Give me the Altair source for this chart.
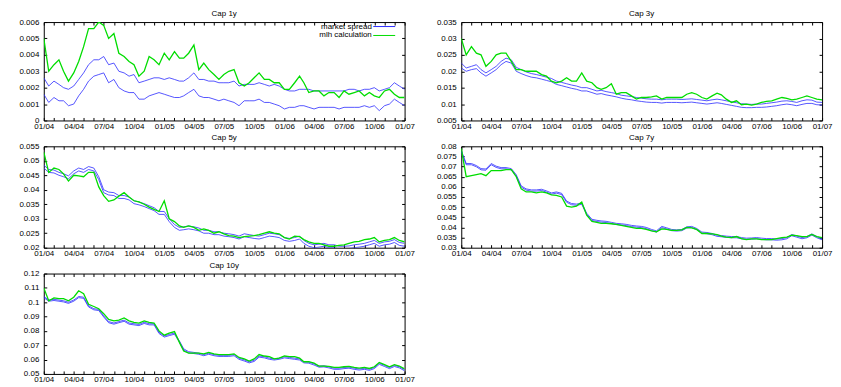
import altair as alt
import pandas as pd

# semi-monthly sampling dates, Jan 2004 .. Jan 2007
dates = []
for yr in (2004, 2005, 2006):
    for mo in range(1, 13):
        dates.append(f"{yr}-{mo:02d}-01T00:00:00")
        dates.append(f"{yr}-{mo:02d}-16T00:00:00")
dates.append("2007-01-01T00:00:00")

# ---------------- Cap 1y ----------------
cap1y_mlh = [0.0050, 0.0030, 0.0034, 0.0037, 0.0030, 0.0024, 0.0029, 0.0036, 0.0045, 0.0056,
             0.0056, 0.0060, 0.0058, 0.0050, 0.0053, 0.0041, 0.0039, 0.0036, 0.0034, 0.0027,
             0.0030, 0.0039, 0.0037, 0.0034, 0.0041, 0.0037, 0.0042, 0.0038, 0.0038, 0.0041,
             0.0046, 0.0031, 0.0035, 0.0031, 0.0028, 0.0025, 0.0028, 0.0030, 0.0031, 0.0023,
             0.0021, 0.0023, 0.0026, 0.0029, 0.0025, 0.0025, 0.0023, 0.0023, 0.0019, 0.0019,
             0.0023, 0.0027, 0.0023, 0.0017, 0.0018, 0.0018, 0.0015, 0.0017, 0.0017, 0.0014,
             0.0018, 0.0016, 0.0017, 0.0018, 0.0015, 0.0017, 0.0015, 0.0014, 0.0018, 0.0019,
             0.0016, 0.0014, 0.0014]
cap1y_ask = [0.0026, 0.0021, 0.0024, 0.0022, 0.0020, 0.0019, 0.0021, 0.0025, 0.0029, 0.0034,
             0.0037, 0.0037, 0.0039, 0.0034, 0.0035, 0.0030, 0.0029, 0.0027, 0.0028, 0.0023,
             0.0024, 0.0025, 0.0026, 0.0026, 0.0025, 0.0026, 0.0025, 0.0024, 0.0024, 0.0026,
             0.0029, 0.0025, 0.0025, 0.0024, 0.0024, 0.0023, 0.0023, 0.0023, 0.0024, 0.0021,
             0.0022, 0.0022, 0.0022, 0.0023, 0.0022, 0.0021, 0.0022, 0.0021, 0.0019, 0.0018,
             0.0018, 0.0019, 0.0019, 0.0019, 0.0018, 0.0018, 0.0018, 0.0018, 0.0018, 0.0018,
             0.0018, 0.0019, 0.0019, 0.0018, 0.0019, 0.0019, 0.0020, 0.0018, 0.0019, 0.0020,
             0.0023, 0.0021, 0.0019]
cap1y_bid = [0.0016, 0.0011, 0.0014, 0.0012, 0.0012, 0.0009, 0.0010, 0.0015, 0.0019, 0.0024,
             0.0027, 0.0028, 0.0029, 0.0023, 0.0025, 0.0020, 0.0018, 0.0017, 0.0017, 0.0013,
             0.0013, 0.0015, 0.0016, 0.0017, 0.0016, 0.0015, 0.0014, 0.0014, 0.0015, 0.0017,
             0.0019, 0.0015, 0.0014, 0.0014, 0.0013, 0.0012, 0.0013, 0.0012, 0.0011, 0.0009,
             0.0012, 0.0012, 0.0012, 0.0013, 0.0011, 0.0011, 0.0010, 0.0009, 0.0007, 0.0008,
             0.0008, 0.0009, 0.0009, 0.0008, 0.0007, 0.0008, 0.0008, 0.0008, 0.0008, 0.0007,
             0.0008, 0.0008, 0.0008, 0.0008, 0.0009, 0.0008, 0.0009, 0.0006, 0.0009, 0.0010,
             0.0013, 0.0011, 0.0009]
ticks_1y = [0, 0.001, 0.002, 0.003, 0.004, 0.005, 0.006]

# ---------------- Cap 3y ----------------
cap3y_mlh = [0.0300, 0.0250, 0.0275, 0.0255, 0.0250, 0.0215, 0.0230, 0.0250, 0.0255, 0.0255,
             0.0230, 0.0205, 0.0205, 0.0200, 0.0200, 0.0200, 0.0190, 0.0185, 0.0170, 0.0165,
             0.0170, 0.0180, 0.0170, 0.0170, 0.0195, 0.0170, 0.0165, 0.0150, 0.0145, 0.0150,
             0.0162, 0.0130, 0.0135, 0.0135, 0.0125, 0.0115, 0.0120, 0.0120, 0.0122, 0.0125,
             0.0115, 0.0120, 0.0120, 0.0120, 0.0120, 0.0130, 0.0135, 0.0130, 0.0120, 0.0115,
             0.0125, 0.0133, 0.0128, 0.0115, 0.0105, 0.0110, 0.0098, 0.0100, 0.0097, 0.0100,
             0.0105, 0.0108, 0.0110, 0.0115, 0.0120, 0.0117, 0.0113, 0.0115, 0.0120, 0.0125,
             0.0120, 0.0115, 0.0113]
cap3y_ask = [0.0225, 0.0210, 0.0215, 0.0220, 0.0205, 0.0195, 0.0205, 0.0215, 0.0230, 0.0240,
             0.0235, 0.0212, 0.0205, 0.0198, 0.0193, 0.0190, 0.0186, 0.0182, 0.0178, 0.0170,
             0.0166, 0.0162, 0.0158, 0.0155, 0.0150, 0.0150, 0.0145, 0.0140, 0.0142, 0.0138,
             0.0135, 0.0132, 0.0127, 0.0125, 0.0123, 0.0120, 0.0118, 0.0116, 0.0115, 0.0115,
             0.0113, 0.0115, 0.0115, 0.0115, 0.0114, 0.0115, 0.0116, 0.0114, 0.0112, 0.0110,
             0.0113, 0.0115, 0.0113, 0.0110, 0.0107, 0.0104, 0.0101, 0.0100, 0.0099, 0.0100,
             0.0100, 0.0102, 0.0104, 0.0106, 0.0109, 0.0110, 0.0108, 0.0105, 0.0110, 0.0113,
             0.0112, 0.0106, 0.0105]
cap3y_bid = [0.0210, 0.0200, 0.0205, 0.0208, 0.0195, 0.0185, 0.0195, 0.0205, 0.0220, 0.0230,
             0.0225, 0.0200, 0.0193, 0.0187, 0.0182, 0.0180, 0.0176, 0.0172, 0.0168, 0.0160,
             0.0156, 0.0152, 0.0148, 0.0145, 0.0140, 0.0140, 0.0135, 0.0130, 0.0132, 0.0128,
             0.0125, 0.0122, 0.0118, 0.0115, 0.0113, 0.0110, 0.0108, 0.0106, 0.0105, 0.0105,
             0.0103, 0.0105, 0.0105, 0.0105, 0.0104, 0.0105, 0.0106, 0.0104, 0.0102, 0.0100,
             0.0102, 0.0104, 0.0102, 0.0099, 0.0096, 0.0093, 0.0090, 0.0089, 0.0089, 0.0090,
             0.0090, 0.0091, 0.0093, 0.0095, 0.0098, 0.0100, 0.0098, 0.0095, 0.0099, 0.0102,
             0.0102, 0.0098, 0.0097]
ticks_3y = [0.005, 0.01, 0.015, 0.02, 0.025, 0.03, 0.035]

# ---------------- Cap 5y ----------------
cap5y_mlh = [0.0530, 0.0460, 0.0475, 0.0470, 0.0455, 0.0430, 0.0450, 0.0448, 0.0445, 0.0460,
             0.0460, 0.0410, 0.0380, 0.0360, 0.0365, 0.0378, 0.0390, 0.0375, 0.0362, 0.0358,
             0.0350, 0.0340, 0.0332, 0.0325, 0.0362, 0.0300, 0.0290, 0.0275, 0.0270, 0.0275,
             0.0270, 0.0260, 0.0265, 0.0260, 0.0250, 0.0255, 0.0248, 0.0242, 0.0240, 0.0235,
             0.0238, 0.0240, 0.0242, 0.0245, 0.0250, 0.0255, 0.0250, 0.0248, 0.0235, 0.0230,
             0.0240, 0.0238, 0.0228, 0.0220, 0.0215, 0.0215, 0.0210, 0.0205, 0.0205, 0.0208,
             0.0210, 0.0215, 0.0220, 0.0222, 0.0228, 0.0230, 0.0235, 0.0220, 0.0225, 0.0228,
             0.0235, 0.0225, 0.0220]
cap5y_ask = [0.0485, 0.0470, 0.0468, 0.0460, 0.0455, 0.0448, 0.0465, 0.0475, 0.0470, 0.0480,
             0.0475, 0.0445, 0.0400, 0.0392, 0.0390, 0.0380, 0.0380, 0.0375, 0.0362, 0.0358,
             0.0352, 0.0345, 0.0338, 0.0325, 0.0325, 0.0300, 0.0280, 0.0270, 0.0272, 0.0275,
             0.0272, 0.0268, 0.0260, 0.0260, 0.0255, 0.0255, 0.0250, 0.0248, 0.0245, 0.0240,
             0.0248, 0.0245, 0.0242, 0.0240, 0.0245, 0.0250, 0.0248, 0.0245, 0.0235, 0.0232,
             0.0235, 0.0240, 0.0225, 0.0215, 0.0210, 0.0212, 0.0215, 0.0210, 0.0210, 0.0205,
             0.0205, 0.0206, 0.0210, 0.0212, 0.0215, 0.0220, 0.0225, 0.0215, 0.0220, 0.0222,
             0.0228, 0.0218, 0.0215]
cap5y_bid = [0.0475, 0.0460, 0.0458, 0.0450, 0.0445, 0.0438, 0.0455, 0.0465, 0.0460, 0.0470,
             0.0465, 0.0435, 0.0390, 0.0382, 0.0380, 0.0370, 0.0370, 0.0365, 0.0352, 0.0348,
             0.0342, 0.0335, 0.0328, 0.0315, 0.0315, 0.0290, 0.0270, 0.0260, 0.0262, 0.0265,
             0.0262, 0.0258, 0.0250, 0.0250, 0.0245, 0.0245, 0.0240, 0.0238, 0.0235, 0.0230,
             0.0238, 0.0235, 0.0232, 0.0230, 0.0235, 0.0240, 0.0238, 0.0235, 0.0225, 0.0222,
             0.0225, 0.0230, 0.0215, 0.0205, 0.0200, 0.0202, 0.0205, 0.0200, 0.0200, 0.0196,
             0.0196, 0.0197, 0.0200, 0.0202, 0.0205, 0.0210, 0.0215, 0.0205, 0.0210, 0.0212,
             0.0218, 0.0208, 0.0205]
ticks_5y = [0.02, 0.025, 0.03, 0.035, 0.04, 0.045, 0.05, 0.055]

# ---------------- Cap 7y ----------------
cap7y_mlh = [0.0790, 0.0650, 0.0655, 0.0660, 0.0665, 0.0655, 0.0680, 0.0680, 0.0680, 0.0685,
             0.0685, 0.0650, 0.0590, 0.0575, 0.0575, 0.0570, 0.0575, 0.0570, 0.0560, 0.0558,
             0.0550, 0.0505, 0.0500, 0.0505, 0.0525, 0.0460, 0.0430, 0.0425, 0.0420, 0.0420,
             0.0418, 0.0415, 0.0410, 0.0405, 0.0400, 0.0395, 0.0395, 0.0390, 0.0383, 0.0378,
             0.0393, 0.0390, 0.0385, 0.0385, 0.0388, 0.0400, 0.0398, 0.0390, 0.0370, 0.0370,
             0.0368, 0.0365, 0.0357, 0.0352, 0.0350, 0.0355, 0.0345, 0.0340, 0.0343, 0.0343,
             0.0340, 0.0340, 0.0340, 0.0345, 0.0350, 0.0352, 0.0362, 0.0360, 0.0355, 0.0355,
             0.0365, 0.0355, 0.0350]
cap7y_ask = [0.0780, 0.0715, 0.0715, 0.0705, 0.0690, 0.0688, 0.0715, 0.0702, 0.0695, 0.0695,
             0.0690, 0.0660, 0.0605, 0.0590, 0.0585, 0.0585, 0.0588, 0.0580, 0.0570, 0.0575,
             0.0568, 0.0530, 0.0518, 0.0515, 0.0520, 0.0470, 0.0440, 0.0435, 0.0432, 0.0430,
             0.0425, 0.0420, 0.0418, 0.0415, 0.0410, 0.0407, 0.0405, 0.0400, 0.0390, 0.0383,
             0.0405, 0.0398, 0.0390, 0.0388, 0.0390, 0.0403, 0.0405, 0.0395, 0.0377, 0.0375,
             0.0370, 0.0362, 0.0360, 0.0357, 0.0355, 0.0355, 0.0350, 0.0347, 0.0348, 0.0350,
             0.0347, 0.0345, 0.0345, 0.0343, 0.0345, 0.0350, 0.0365, 0.0358, 0.0350, 0.0355,
             0.0368, 0.0355, 0.0345]
cap7y_bid = [0.0774, 0.0709, 0.0709, 0.0699, 0.0684, 0.0682, 0.0709, 0.0696, 0.0689, 0.0689,
             0.0684, 0.0654, 0.0599, 0.0584, 0.0579, 0.0579, 0.0582, 0.0574, 0.0564, 0.0569,
             0.0562, 0.0524, 0.0512, 0.0509, 0.0514, 0.0464, 0.0434, 0.0429, 0.0426, 0.0424,
             0.0419, 0.0414, 0.0412, 0.0409, 0.0404, 0.0401, 0.0399, 0.0394, 0.0384, 0.0377,
             0.0399, 0.0392, 0.0384, 0.0382, 0.0384, 0.0397, 0.0399, 0.0389, 0.0371, 0.0369,
             0.0364, 0.0356, 0.0354, 0.0351, 0.0349, 0.0349, 0.0344, 0.0341, 0.0342, 0.0344,
             0.0341, 0.0339, 0.0339, 0.0337, 0.0339, 0.0344, 0.0359, 0.0352, 0.0344, 0.0349,
             0.0362, 0.0349, 0.0339]
ticks_7y = [0.03, 0.035, 0.04, 0.045, 0.05, 0.055, 0.06, 0.065, 0.07, 0.075, 0.08]

# ---------------- Cap 10y ----------------
cap10y_mlh = [0.1100, 0.1010, 0.1030, 0.1025, 0.1025, 0.1010, 0.1035, 0.1080, 0.1060, 0.0985,
              0.0970, 0.0955, 0.0920, 0.0880, 0.0870, 0.0875, 0.0890, 0.0870, 0.0860, 0.0855,
              0.0870, 0.0860, 0.0855, 0.0800, 0.0770, 0.0785, 0.0795, 0.0720, 0.0660, 0.0645,
              0.0645, 0.0645, 0.0640, 0.0650, 0.0640, 0.0635, 0.0635, 0.0635, 0.0640, 0.0615,
              0.0605, 0.0590, 0.0605, 0.0635, 0.0625, 0.0620, 0.0605, 0.0610, 0.0625, 0.0620,
              0.0620, 0.0610, 0.0585, 0.0585, 0.0575, 0.0555, 0.0555, 0.0553, 0.0545, 0.0545,
              0.0550, 0.0553, 0.0545, 0.0540, 0.0545, 0.0538, 0.0550, 0.0580, 0.0565, 0.0550,
              0.0565, 0.0555, 0.0535]
cap10y_ask = [0.1040, 0.1015, 0.1020, 0.1015, 0.1010, 0.1000, 0.1015, 0.1040, 0.1035, 0.0975,
              0.0955, 0.0950, 0.0905, 0.0865, 0.0855, 0.0865, 0.0875, 0.0855, 0.0850, 0.0845,
              0.0860, 0.0850, 0.0850, 0.0790, 0.0765, 0.0775, 0.0785, 0.0730, 0.0675, 0.0655,
              0.0650, 0.0645, 0.0635, 0.0645, 0.0635, 0.0630, 0.0630, 0.0630, 0.0635, 0.0610,
              0.0598, 0.0585, 0.0595, 0.0625, 0.0620, 0.0610, 0.0605, 0.0610, 0.0620, 0.0615,
              0.0610, 0.0605, 0.0585, 0.0583, 0.0570, 0.0555, 0.0557, 0.0550, 0.0540, 0.0540,
              0.0545, 0.0548, 0.0540, 0.0535, 0.0540, 0.0533, 0.0545, 0.0575, 0.0560, 0.0545,
              0.0560, 0.0550, 0.0530]
cap10y_bid = [0.1032, 0.1007, 0.1012, 0.1007, 0.1002, 0.0992, 0.1007, 0.1032, 0.1027, 0.0967,
              0.0947, 0.0942, 0.0897, 0.0857, 0.0847, 0.0857, 0.0867, 0.0847, 0.0842, 0.0837,
              0.0852, 0.0842, 0.0842, 0.0782, 0.0757, 0.0767, 0.0777, 0.0722, 0.0667, 0.0647,
              0.0642, 0.0637, 0.0627, 0.0637, 0.0627, 0.0622, 0.0622, 0.0622, 0.0627, 0.0602,
              0.0590, 0.0577, 0.0587, 0.0617, 0.0612, 0.0602, 0.0597, 0.0602, 0.0612, 0.0607,
              0.0602, 0.0597, 0.0577, 0.0575, 0.0562, 0.0547, 0.0549, 0.0542, 0.0532, 0.0532,
              0.0537, 0.0540, 0.0532, 0.0527, 0.0532, 0.0525, 0.0537, 0.0567, 0.0552, 0.0537,
              0.0552, 0.0542, 0.0522]
ticks_10y = [0.05, 0.06, 0.07, 0.08, 0.09, 0.1, 0.11, 0.12]

SERIES = ["market spread", "mlh calculation"]
BLUE = "#2b2bff"
GREEN = "#00dd00"
FONT = "Liberation Sans"

# monthly tick marks; labels only on quarter months
month_ticks = [alt.DateTime(year=y, month=m, date=1)
               for y in (2004, 2005, 2006) for m in range(1, 13)] + [alt.DateTime(year=2007, month=1, date=1)]
QUARTER_LABEL = "(month(datum.value) % 3 == 0) ? timeFormat(datum.value, '%m/%y') : ''"
X_DOMAIN = [alt.DateTime(year=2004, month=1, date=1), alt.DateTime(year=2007, month=1, date=1)]
INWARD = {"expr": "-3"}


def panel(title, ask, bid, mlh, yticks, width, height, legend=False):
    n = len(dates)
    df = pd.DataFrame({
        "date": dates * 3,
        "value": ask + bid + mlh,
        "series": [SERIES[0]] * (2 * n) + [SERIES[1]] * n,
        "line": ["ask"] * n + ["bid"] * n + ["mlh"] * n,
    })
    xscale = alt.Scale(domain=X_DOMAIN)
    yscale = alt.Scale(domain=[yticks[0], yticks[-1]], nice=False, zero=False)
    x_bottom = alt.X("date:T", scale=xscale,
                     axis=alt.Axis(values=month_ticks, labelExpr=QUARTER_LABEL, title=None,
                                   labelFlush=False, labelOverlap=False,
                                   tickSize=INWARD, labelPadding=5))
    y_left = alt.Y("value:Q", scale=yscale,
                   axis=alt.Axis(values=yticks, format="~g", title=None,
                                 labelFlush=False, labelOverlap=False,
                                 tickSize=INWARD, labelPadding=8))
    x_top = alt.X("date:T", scale=xscale,
                  axis=alt.Axis(orient="top", values=month_ticks, labels=False, title=None,
                                tickSize=INWARD))
    y_right = alt.Y("value:Q", scale=yscale,
                    axis=alt.Axis(orient="right", values=yticks, labels=False, title=None,
                                  tickSize=INWARD))
    if legend:
        leg = alt.Legend(title=None, orient="none", legendX=279, legendY=0,
                         labelFont=FONT, labelFontSize=8, labelColor="black",
                         symbolType="M-3,0L3,0", symbolSize=54, symbolStrokeWidth=1,
                         labelAlign="right", labelOffset={"expr": "-17"}, symbolOffset=59,
                         rowPadding=-3, padding=0)
    else:
        leg = None
    cscale = alt.Scale(domain=SERIES, range=[BLUE, GREEN])
    color_main = alt.Color("series:N", scale=cscale, legend=leg)
    color_plain = alt.Color("series:N", scale=cscale, legend=None)
    base = alt.Chart(df)
    blue = base.transform_filter(alt.datum.series == SERIES[0]).mark_line(
        clip=True, strokeWidth=0.8)
    green = base.transform_filter(alt.datum.series == SERIES[1]).mark_line(
        clip=True, strokeWidth=1.3)
    lines = alt.layer(
        blue.encode(x=x_bottom, y=y_left, color=color_main, detail="line:N"),
        green.encode(x=x_bottom, y=y_left, color=color_main, detail="line:N"),
    )
    # invisible copy that only draws the mirrored top/right tick marks
    mirror = base.transform_filter(alt.datum.series == SERIES[1]).mark_line(
        clip=True, opacity=0).encode(x=x_top, y=y_right, color=color_plain, detail="line:N")
    return alt.layer(lines, mirror).resolve_axis(x="independent", y="independent").properties(
        width=width, height=height,
        title=alt.TitleParams(title, fontSize=8, font=FONT, fontWeight="normal",
                              anchor="middle", offset=0, color="black"))


p1 = panel("Cap 1y", cap1y_ask, cap1y_bid, cap1y_mlh, ticks_1y, 363, 99, legend=True)
p2 = panel("Cap 3y", cap3y_ask, cap3y_bid, cap3y_mlh, ticks_3y, 363, 99)
p3 = panel("Cap 5y", cap5y_ask, cap5y_bid, cap5y_mlh, ticks_5y, 363, 102)
p4 = panel("Cap 7y", cap7y_ask, cap7y_bid, cap7y_mlh, ticks_7y, 363, 102)
p5 = panel("Cap 10y", cap10y_ask, cap10y_bid, cap10y_mlh, ticks_10y, 363, 101)

chart = alt.concat(p1, p2, p3, p4, p5, columns=2, bounds="flush",
                   spacing=alt.RowColnumber(row=26, column=57)).resolve_scale(
    color="independent").resolve_legend(color="independent").properties(
    padding={"left": 10, "top": 0, "right": 0, "bottom": 0},
    background="white",
).configure_view(stroke="black", strokeWidth=1).configure_axis(
    labelFont=FONT, labelFontSize=8, labelColor="black", domainColor="black",
    tickColor="black", grid=False, domain=False
)

chart.save("out.html", embed_options={"renderer": "svg", "actions": False})
